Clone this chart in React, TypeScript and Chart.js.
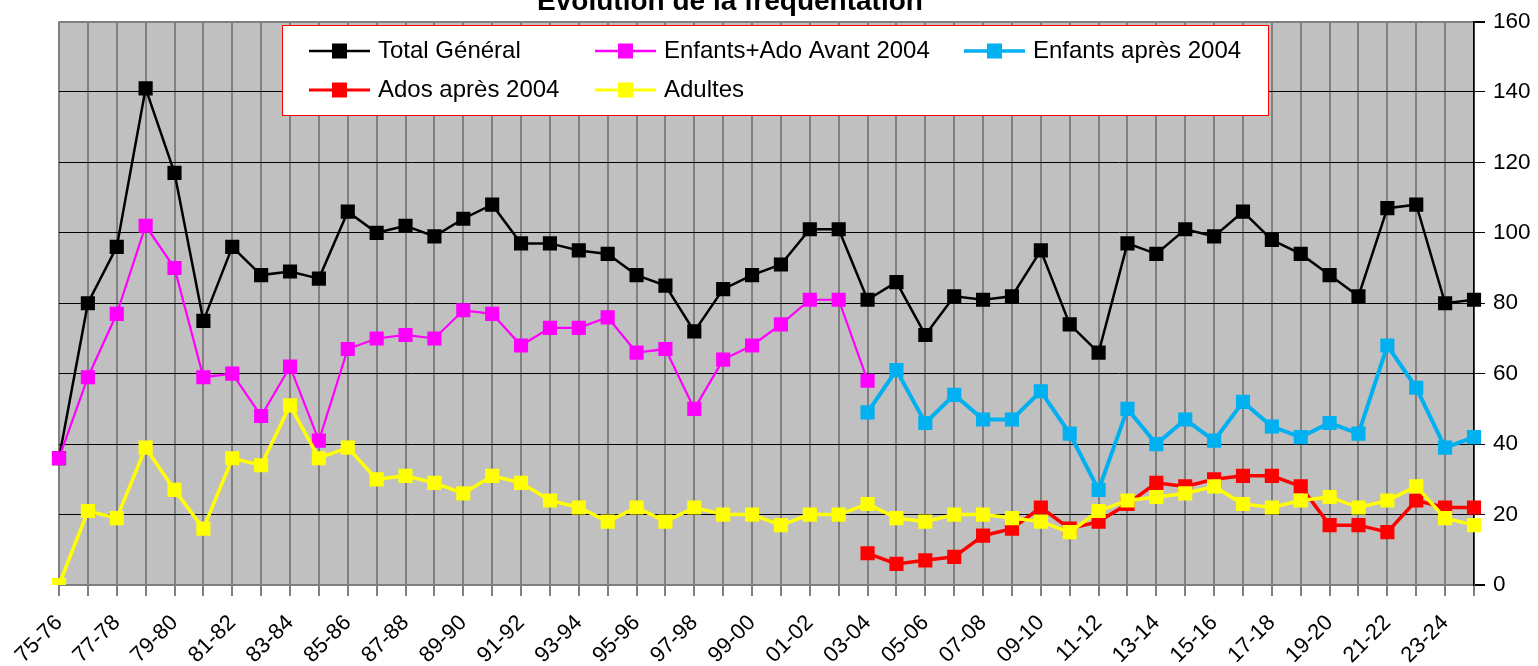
import React, { useEffect, useRef } from 'react';
import { Chart, registerables } from 'chart.js';

Chart.register(...registerables);

const FONT = "'Liberation Sans', Arial, sans-serif";

const chartTitle = 'Évolution de la fréquentation';

const seasons = [
  '75-76', '76-77', '77-78', '78-79', '79-80', '80-81', '81-82', '82-83', '83-84', '84-85',
  '85-86', '86-87', '87-88', '88-89', '89-90', '90-91', '91-92', '92-93', '93-94', '94-95',
  '95-96', '96-97', '97-98', '98-99', '99-00', '00-01', '01-02', '02-03', '03-04', '04-05',
  '05-06', '06-07', '07-08', '08-09', '09-10', '10-11', '11-12', '12-13', '13-14', '14-15',
  '15-16', '16-17', '17-18', '18-19', '19-20', '20-21', '21-22', '22-23', '23-24', '24-25',
];

// 75-76 .. 24-25
const totalGeneral = [
  36, 80, 96, 141, 117, 75, 96, 88, 89, 87,
  106, 100, 102, 99, 104, 108, 97, 97, 95, 94,
  88, 85, 72, 84, 88, 91, 101, 101, 81, 86,
  71, 82, 81, 82, 95, 74, 66, 97, 94, 101,
  99, 106, 98, 94, 88, 82, 107, 108, 80, 81,
];

// 75-76 .. 03-04
const enfantsAdoAvant2004 = [
  36, 59, 77, 102, 90, 59, 60, 48, 62, 41,
  67, 70, 71, 70, 78, 77, 68, 73, 73, 76,
  66, 67, 50, 64, 68, 74, 81, 81, 58,
];

// 03-04 .. 24-25
const enfantsApres2004 = [
  49, 61, 46, 54, 47, 47, 55, 43, 27, 50, 40,
  47, 41, 52, 45, 42, 46, 43, 68, 56, 39, 42,
];

// 03-04 .. 24-25
const adosApres2004 = [
  9, 6, 7, 8, 14, 16, 22, 16, 18, 23, 29,
  28, 30, 31, 31, 28, 17, 17, 15, 24, 22, 22,
];

// 75-76 .. 24-25
const adultes = [
  0, 21, 19, 39, 27, 16, 36, 34, 51, 36,
  39, 30, 31, 29, 26, 31, 29, 24, 22, 18,
  22, 18, 22, 20, 20, 17, 20, 20, 23, 19,
  18, 20, 20, 19, 18, 15, 21, 24, 25, 26,
  28, 23, 22, 24, 25, 22, 24, 28, 19, 17,
];

const yTicks = [0, 20, 40, 60, 80, 100, 120, 140, 160];

const splitStart = seasons.indexOf('03-04');

const padEnd = (arr: number[]) => [...arr, ...new Array(seasons.length - arr.length).fill(null)];
const padStart = (arr: number[]) => [...new Array(splitStart).fill(null), ...arr];

type Series = { label: string; data: (number | null)[]; color: string; width: number; order: number };

const series: Series[] = [
  { label: 'Total Général', data: totalGeneral, color: '#000000', width: 2.5, order: 5 },
  { label: 'Enfants+Ado Avant 2004', data: padEnd(enfantsAdoAvant2004), color: '#FF00FF', width: 2.2, order: 4 },
  { label: 'Enfants après 2004', data: padStart(enfantsApres2004), color: '#00B0F0', width: 4, order: 3 },
  { label: 'Ados après 2004', data: padStart(adosApres2004), color: '#FF0000', width: 3.5, order: 2 },
  { label: 'Adultes', data: adultes, color: '#FFFF00', width: 3.5, order: 1 },
];

const bgPlugin = {
  id: 'plotBg',
  beforeDraw(chart: any) {
    const { ctx, chartArea: a } = chart;
    ctx.save();
    ctx.fillStyle = '#FFFFFF';
    ctx.fillRect(0, 0, chart.width, chart.height);
    ctx.fillStyle = '#C0C0C0';
    ctx.fillRect(a.left, a.top, a.right - a.left, a.bottom - a.top);
    ctx.restore();
  },
};

const overlayPlugin = {
  id: 'overlay',
  afterDraw(chart: any) {
    const { ctx } = chart;
    ctx.save();
    // title (partially cut at the top, as in the reference)
    ctx.fillStyle = '#000';
    ctx.font = `bold 28px ${FONT}`;
    ctx.textAlign = 'center';
    ctx.textBaseline = 'alphabetic';
    ctx.fillText(chartTitle, 730, 10);

    // legend box
    ctx.fillStyle = '#FFFFFF';
    ctx.fillRect(282.5, 25.5, 986, 90);
    ctx.strokeStyle = '#FF0000';
    ctx.lineWidth = 1;
    ctx.strokeRect(282.5, 25.5, 986, 90);

    const colX = [309, 595, 964];
    const rowY = [51, 90];
    ctx.font = `24px ${FONT}`;
    ctx.textAlign = 'left';
    series.forEach((s, i) => {
      const col = i % 3;
      const row = Math.floor(i / 3);
      const x = colX[col];
      const y = rowY[row];
      ctx.strokeStyle = s.color;
      ctx.lineWidth = Math.max(2.5, s.width - 0.5);
      ctx.beginPath();
      ctx.moveTo(x, y);
      ctx.lineTo(x + 61, y);
      ctx.stroke();
      ctx.fillStyle = s.color;
      ctx.fillRect(x + 23, y - 7.5, 15, 15);
      ctx.fillStyle = '#000';
      ctx.fillText(s.label, x + 69, y + 7);
    });
    ctx.restore();
  },
};

export default function App() {
  const ref = useRef<HTMLCanvasElement>(null);

  useEffect(() => {
    if (!ref.current) return;
    Chart.defaults.font.family = FONT;
    const chart = new Chart(ref.current, {
      type: 'line',
      data: {
        labels: seasons,
        datasets: series.map((s) => ({
          label: s.label,
          data: s.data,
          borderColor: s.color,
          backgroundColor: s.color,
          borderWidth: s.width,
          pointStyle: 'rect',
          pointRadius: 10,
          pointBorderWidth: 0,
          pointBackgroundColor: s.color,
          tension: 0,
          spanGaps: false,
          fill: false,
          order: s.order,
        })),
      },
      options: {
        responsive: false,
        devicePixelRatio: 1,
        animation: false,
        events: [],
        layout: { padding: { left: 59, top: 19, right: 0, bottom: 0 } },
        plugins: {
          legend: { display: false },
          tooltip: { enabled: false },
          title: { display: false },
        },
        scales: {
          x: {
            type: 'category',
            offset: false,
            grid: { color: '#808080', lineWidth: 2, tickLength: 11, tickColor: '#808080', drawTicks: true },
            border: { color: '#808080', width: 2 },
            ticks: {
              autoSkip: false,
              maxRotation: 45,
              minRotation: 45,
              padding: 14,
              color: '#000',
              font: { size: 22, family: FONT },
              callback: (_v: any, i: number) => (i % 2 === 0 ? seasons[i] : ''),
            },
            afterFit: (s: any) => {
              s.height = 81;
            },
          },
          y: {
            position: 'right',
            min: yTicks[0],
            max: yTicks[yTicks.length - 1],
            afterBuildTicks: (s: any) => {
              s.ticks = yTicks.map((v) => ({ value: v }));
            },
            ticks: { padding: 8, color: '#000', font: { size: 22.5, family: FONT } },
            grid: {
              color: (c: any) => (c.tick && (c.tick.value === 0 || c.tick.value === 160) ? '#808080' : '#000000'),
              lineWidth: (c: any) => (c.tick && (c.tick.value === 0 || c.tick.value === 160) ? 2 : 1),
              tickColor: '#000000',
              tickLength: 11,
            },
            border: { color: '#000000', width: 1.5 },
            afterFit: (s: any) => {
              s.width = 64;
            },
          },
        },
      } as any,
      plugins: [bgPlugin, overlayPlugin],
    });
    return () => chart.destroy();
  }, []);

  return (
    <div style={{ position: 'absolute', left: 0, top: 0, width: 1538, height: 666, background: '#fff' }}>
      <canvas ref={ref} width={1538} height={666} style={{ display: 'block', width: 1538, height: 666 }} />
    </div>
  );
}
